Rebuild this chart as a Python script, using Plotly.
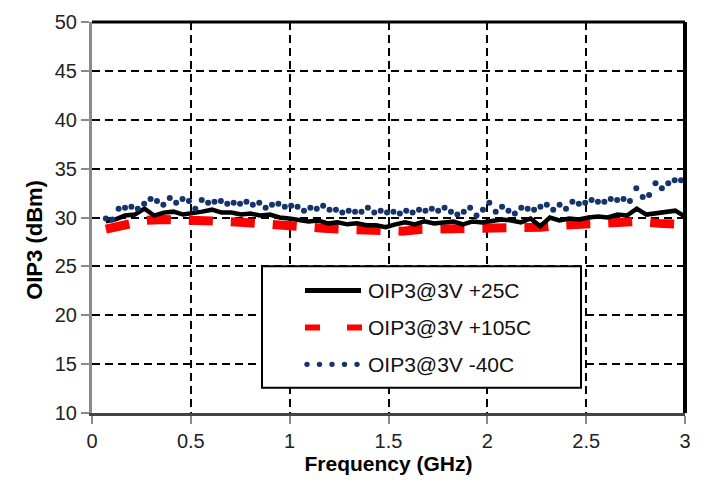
import numpy as np
import plotly.graph_objects as go

# ---------------- data ----------------
oip3_25c = [29.6, 29.8, 30.2, 30.3, 30.9, 30.2, 30.5, 30.6, 30.3, 30.4,
            30.6, 30.8, 30.5, 30.5, 30.3, 30.4, 30.2, 30.3, 30.0, 29.9,
            29.8, 29.6, 29.7, 29.4, 29.5, 29.3, 29.4, 29.2, 29.2, 29.0,
            29.3, 29.5, 29.3, 29.6, 29.4, 29.5, 29.6, 29.3, 29.6, 29.5,
            29.6, 29.8, 29.7, 29.5, 29.9, 29.1, 30.0, 29.7, 29.9, 29.8,
            30.0, 30.1, 30.0, 30.3, 30.2, 30.9, 30.3, 30.4, 30.5, 30.7, 30.1]
oip3_105c = [28.8, 29.2, 29.7, 29.8, 29.8, 29.7, 29.6, 29.5, 29.3, 29.2,
             29.0, 28.9, 28.8, 28.7, 28.7, 28.6, 28.8, 28.8, 28.8, 28.8,
             28.9, 28.8, 29.0, 29.2, 29.3, 29.4, 29.6, 29.6, 29.4, 29.3]
oip3_m40c = [29.9, 29.8, 30.9, 31.0, 31.1, 30.9, 31.4, 31.9, 31.7, 31.3,
             32.0, 31.5, 31.9, 31.7, 30.9, 31.8, 31.5, 31.6, 31.7, 31.4,
             31.5, 31.4, 31.6, 31.3, 31.5, 31.0, 31.3, 31.4, 31.1, 31.2,
             31.1, 30.7, 31.0, 30.9, 31.2, 30.8, 30.8, 30.5, 30.7, 30.6,
             30.6, 31.0, 30.5, 30.7, 30.5, 30.6, 30.4, 30.7, 30.5, 30.8,
             30.7, 30.9, 30.7, 31.0, 30.6, 30.3, 30.6, 31.0, 30.2, 30.8,
             31.5, 30.6, 31.1, 30.7, 30.4, 31.0, 30.9, 30.8, 31.1, 31.3,
             30.8, 31.3, 30.9, 31.6, 31.4, 31.5, 31.8, 31.6, 31.6, 31.9,
             31.8, 31.9, 31.7, 33.0, 32.1, 32.3, 33.5, 33.0, 33.5, 33.8, 33.8]

freq_25c = np.linspace(0.07, 3.0, len(oip3_25c))
freq_105c = np.linspace(0.07, 2.97, len(oip3_105c))
freq_m40c = np.linspace(0.07, 2.98, len(oip3_m40c))

legend_names = ["OIP3@3V +25C", "OIP3@3V +105C", "OIP3@3V -40C"]
x_ticks = [0, 0.5, 1, 1.5, 2, 2.5, 3]
x_tick_text = ["0", "0.5", "1", "1.5", "2", "2.5", "3"]
y_ticks = [10, 15, 20, 25, 30, 35, 40, 45, 50]

# ---------------- figure ----------------
W, H = 706, 486
L, R, T, B = 92, 21, 11, 73
pw, ph = W - L - R, H - T - B
FONT = "Liberation Sans, Arial"

def px(x):
    return (x - L) / pw

def py(y):
    return (H - B - y) / ph

RED = "#FF0000"
NAVY = "#17336B"

fig = go.Figure()
fig.add_trace(go.Scatter(x=freq_105c, y=oip3_105c, mode="lines", name=legend_names[1],
                         line=dict(color=RED, width=9, dash="24px,18px"), showlegend=False))
fig.add_trace(go.Scatter(x=freq_25c, y=oip3_25c, mode="lines", name=legend_names[0],
                         line=dict(color="black", width=4.5), showlegend=False))
fig.add_trace(go.Scatter(x=freq_m40c, y=oip3_m40c, mode="markers", name=legend_names[2],
                         marker=dict(color=NAVY, size=6), showlegend=False))

fig.update_xaxes(range=[0, 3], tickvals=x_ticks, ticktext=x_tick_text,
                 showgrid=True, gridcolor="black", griddash="8px,5px", gridwidth=2,
                 ticks="outside", ticklen=8, tickcolor="#8a8a8a", tickwidth=2,
                 showline=True, linecolor="#444444", linewidth=3,
                 zeroline=False,
                 tickfont=dict(family=FONT, size=20, color="#222"),
                 title=dict(text="<b>Frequency (GHz)</b>", standoff=4,
                            font=dict(family=FONT, size=21, color="black")))
fig.update_yaxes(range=[10, 50], tickvals=y_ticks,
                 showgrid=True, gridcolor="black", griddash="8px,5px", gridwidth=2,
                 ticks="outside", ticklen=8, tickcolor="#8a8a8a", tickwidth=2,
                 showline=True, linecolor="#8a8a8a", linewidth=3,
                 zeroline=False,
                 tickfont=dict(family=FONT, size=20, color="#222"))

shapes = []
# black frame top/right
shapes.append(dict(type="line", xref="paper", yref="paper", x0=0, x1=1, y0=1, y1=1,
                   line=dict(color="black", width=3)))
shapes.append(dict(type="line", xref="paper", yref="paper", x0=1, x1=1, y0=0, y1=1,
                   line=dict(color="black", width=4)))

# manual legend
shapes.append(dict(type="rect", xref="paper", yref="paper",
                   x0=px(262), x1=px(581), y0=py(387), y1=py(262),
                   line=dict(color="black", width=2), fillcolor="white", layer="above"))
ys = [287, 325, 363]
shapes.append(dict(type="line", xref="paper", yref="paper", x0=px(305), x1=px(361),
                   y0=py(ys[0]), y1=py(ys[0]), line=dict(color="black", width=5), layer="above"))
shapes.append(dict(type="line", xref="paper", yref="paper", x0=px(305), x1=px(362),
                   y0=py(ys[1]), y1=py(ys[1]), line=dict(color=RED, width=6, dash="15px,27px"),
                   layer="above"))
annotations = []
for k in range(5):
    cx = 307 + k * 12.5
    shapes.append(dict(type="circle", xref="paper", yref="paper",
                       x0=px(cx - 2.7), x1=px(cx + 2.7), y0=py(ys[2] + 2.7), y1=py(ys[2] - 2.7),
                       fillcolor=NAVY, line=dict(width=0), layer="above"))
for name, yy in zip(legend_names, ys):
    annotations.append(dict(xref="paper", yref="paper", x=px(366), y=py(yy),
                            xanchor="left", yanchor="middle", text=name, showarrow=False,
                            font=dict(family=FONT, size=21, color="#111")))
# y axis title
annotations.append(dict(xref="paper", yref="paper", x=px(35), y=py(235),
                        xanchor="center", yanchor="middle", textangle=-90,
                        text="<b>OIP3 (dBm)</b>", showarrow=False,
                        font=dict(family=FONT, size=22, color="black")))

fig.update_layout(width=W, height=H, margin=dict(l=L, r=R, t=T, b=B),
                  paper_bgcolor="white", plot_bgcolor="white",
                  shapes=shapes, annotations=annotations, showlegend=False)

fig.write_html("out.html")
